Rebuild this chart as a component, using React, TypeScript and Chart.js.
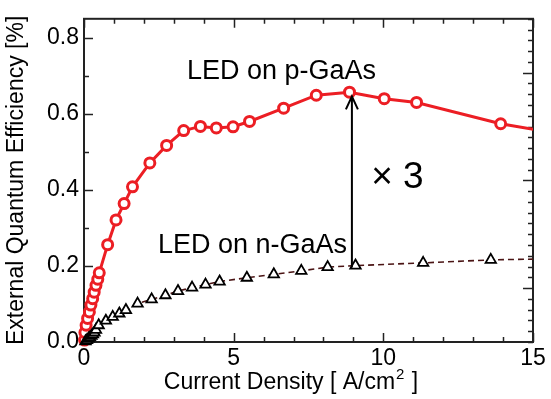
import React, { useEffect, useRef } from "react";
import { Chart, registerables } from "chart.js";

Chart.register(...registerables);

// Data
const pX = [0.02, 0.03, 0.07, 0.12, 0.18, 0.23, 0.29, 0.34, 0.40, 0.46, 0.51, 0.79, 1.07, 1.34, 1.62, 2.2, 2.76, 3.33, 3.89, 4.42, 4.98, 5.53, 6.67, 7.76, 8.87, 10.03, 11.11, 13.92, 16.8];
const pY = [0.005, 0.025, 0.044, 0.062, 0.079, 0.097, 0.114, 0.131, 0.149, 0.165, 0.182, 0.256, 0.321, 0.364, 0.408, 0.471, 0.517, 0.556, 0.567, 0.563, 0.566, 0.580, 0.615, 0.649, 0.657, 0.640, 0.630, 0.574, 0.535];

const nX = [0.05, 0.1, 0.15, 0.2, 0.25, 0.3, 0.35, 0.40, 0.49, 0.73, 0.96, 1.18, 1.4, 1.79, 2.26, 2.72, 3.14, 3.61, 4.06, 4.53, 5.44, 6.34, 7.26, 8.14, 9.07, 11.33, 13.59, 17];
const nY = [0.002, 0.005, 0.009, 0.012, 0.016, 0.02, 0.025, 0.032, 0.044, 0.056, 0.066, 0.075, 0.084, 0.101, 0.112, 0.123, 0.134, 0.143, 0.151, 0.159, 0.169, 0.178, 0.187, 0.197, 0.201, 0.208, 0.216, 0.221];

const xTicks = [0, 5, 10, 15];
const yTicks = [0, 0.2, 0.4, 0.6, 0.8];

const labels = [
  { text: "LED on p-GaAs", x: 6.6, y: 0.71, size: 27 },
  { text: "LED on n-GaAs", x: 5.63, y: 0.254, size: 27 },
  { text: "\u00d7 3", x: 10.47, y: 0.431, size: 37 },
];
const arrow = { x: 8.95, from: 0.196, to: 0.646 };
const xTitle = { main: "Current Density [ A/cm", sup: "2", end: " ]" };

const FONT = "'Liberation Sans', Arial, sans-serif";

const framePlugin = {
  id: "frame",
  beforeDatasetsDraw(chart: any) {
    const { ctx, chartArea: a, scales } = chart;
    const x = scales.x, y = scales.y, y2 = scales.y2;
    ctx.save();
    ctx.strokeStyle = "#222";
    ctx.lineWidth = 1.5;
    for (let v = 0; v <= 15; v += 1) {
      const px = Math.round(x.getPixelForValue(v)) + 0.5;
      const len = v % 5 === 0 ? 9 : 5;
      ctx.beginPath();
      ctx.moveTo(px, a.bottom); ctx.lineTo(px, a.bottom - len);
      ctx.moveTo(px, a.top); ctx.lineTo(px, a.top + len);
      ctx.stroke();
    }
    for (let i = 0; i <= 8; i++) {
      const v = i / 10;
      const py = Math.round(y.getPixelForValue(v)) + 0.5;
      const len = i % 2 === 0 ? 9 : 5;
      ctx.beginPath();
      ctx.moveTo(a.left, py); ctx.lineTo(a.left + len, py);
      ctx.stroke();
    }
    for (let i = 0; i <= 30; i++) {
      const v = i / 10;
      const py = Math.round(y2.getPixelForValue(v)) + 0.5;
      const len = i % 10 === 5 ? 10 : 5;
      ctx.beginPath();
      ctx.moveTo(a.right, py); ctx.lineTo(a.right - len, py);
      ctx.stroke();
    }
    ctx.lineWidth = 2;
    ctx.strokeRect(a.left, a.top, a.right - a.left, a.bottom - a.top);
    ctx.restore();
  },
  afterDatasetsDraw(chart: any) {
    const { ctx, scales } = chart;
    const x = scales.x, y = scales.y;
    ctx.save();
    ctx.fillStyle = "#000";
    ctx.textAlign = "center";
    ctx.textBaseline = "middle";
    for (const l of labels) {
      ctx.font = `${l.size}px ${FONT}`;
      ctx.fillText(l.text, x.getPixelForValue(l.x), y.getPixelForValue(l.y));
    }
    const ax = x.getPixelForValue(arrow.x);
    const y0 = y.getPixelForValue(arrow.from);
    const y1 = y.getPixelForValue(arrow.to);
    ctx.strokeStyle = "#000";
    ctx.lineWidth = 2;
    ctx.beginPath();
    ctx.moveTo(ax, y0); ctx.lineTo(ax, y1);
    ctx.moveTo(ax - 6, y1 + 13); ctx.lineTo(ax, y1); ctx.lineTo(ax + 6, y1 + 13);
    ctx.stroke();

    // x-axis title with superscript
    const big = `23px ${FONT}`;
    const small = `15px ${FONT}`;
    ctx.textAlign = "left";
    ctx.textBaseline = "alphabetic";
    ctx.font = big;
    const w1 = ctx.measureText(xTitle.main).width;
    const w3 = ctx.measureText(xTitle.end).width;
    ctx.font = small;
    const w2 = ctx.measureText(xTitle.sup).width + 2;
    const total = w1 + w2 + w3;
    const cx = 291;
    const base = 389;
    let sx = cx - total / 2;
    ctx.font = big;
    ctx.fillText(xTitle.main, sx, base);
    sx += w1 + 1;
    ctx.font = small;
    ctx.fillText(xTitle.sup, sx, base - 10);
    sx += w2 - 1;
    ctx.font = big;
    ctx.fillText(xTitle.end, sx, base);
    ctx.restore();
  },
};

export default function App() {
  const ref = useRef<HTMLCanvasElement>(null);
  useEffect(() => {
    const chart = new Chart(ref.current!, {
      type: "scatter",
      data: {
        datasets: [
          {
            label: "n-GaAs",
            data: nX.map((v, i) => ({ x: v, y: nY[i] })),
            showLine: true,
            borderColor: "#4a1414",
            borderWidth: 1.6,
            borderDash: [6, 4],
            pointStyle: "triangle",
            pointRadius: 6,
            pointBorderWidth: 1.8,
            pointBorderColor: "#000",
            pointBackgroundColor: "#fff",
            clip: { left: 10, top: 10, bottom: 10, right: 0 } as any,
          },
          {
            label: "p-GaAs",
            data: pX.map((v, i) => ({ x: v, y: pY[i] })),
            showLine: true,
            borderColor: "rgb(236,30,36)",
            borderWidth: 3,
            pointStyle: "circle",
            pointRadius: 5,
            pointBorderWidth: 3,
            pointBorderColor: "rgb(236,30,36)",
            pointBackgroundColor: "#fff",
            clip: { left: 10, top: 10, bottom: 10, right: 0 } as any,
          },
        ],
      },
      options: {
        animation: false,
        responsive: false,
        maintainAspectRatio: false,
        layout: { padding: { top: 17, right: 18, left: 0, bottom: 0 } },
        plugins: { legend: { display: false }, tooltip: { enabled: false } },
        scales: {
          x: {
            type: "linear",
            min: 0,
            max: 15,
            grid: { display: false, drawTicks: false },
            border: { display: false },
            afterBuildTicks: (s: any) => { s.ticks = xTicks.map((v) => ({ value: v })); },
            afterFit: (s: any) => { s.height = 57; },
            ticks: {
              padding: 3,
              color: "#000",
              font: { family: FONT, size: 23 },
              maxRotation: 0,
              autoSkip: false,
              callback: (v: any) => String(v),
            },
            title: { display: false },
          },
          y: {
            type: "linear",
            min: 0,
            max: 0.85,
            grid: { display: false, drawTicks: false },
            border: { display: false },
            afterBuildTicks: (s: any) => { s.ticks = yTicks.map((v) => ({ value: v })); },
            afterFit: (s: any) => { s.width = 84; },
            ticks: {
              padding: 5,
              color: "#000",
              font: { family: FONT, size: 23 },
              autoSkip: false,
              callback: (v: any) => Number(v).toFixed(1),
            },
            title: {
              display: true,
              text: "External Quantum Efficiency [%]",
              color: "#000",
              font: { family: FONT, size: 23 },
              padding: { top: 3, bottom: 0 },
            },
          },
          y2: {
            type: "linear",
            display: false,
            min: 0,
            max: 3,
          },
        },
      },
      plugins: [framePlugin],
    } as any);
    return () => chart.destroy();
  }, []);
  return (
    <div style={{ position: "fixed", left: 0, top: 0, width: 551, height: 399, background: "#fff" }}>
      <canvas ref={ref} width={551} height={399} style={{ width: 551, height: 399 }} />
    </div>
  );
}
